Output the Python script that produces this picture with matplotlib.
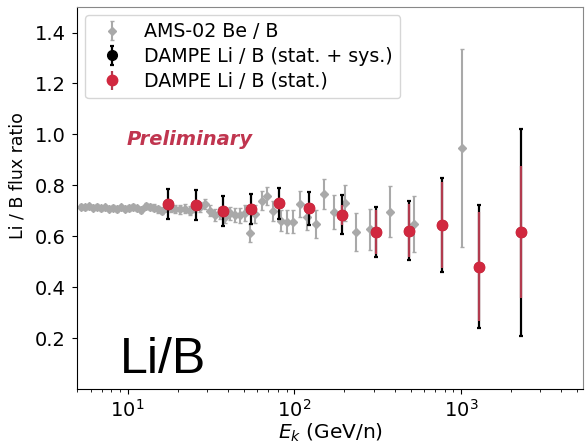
import numpy as np
import matplotlib
matplotlib.use("Agg")
import matplotlib.pyplot as plt

# AMS-02 Be / B
ams_e = [5.22, 5.52, 5.83, 6.16, 6.51, 6.88, 7.28, 7.69, 8.13, 8.59, 9.08, 9.59,
         10.14, 10.72, 11.33, 11.97, 12.83, 13.56, 14.33, 15.14, 16.0, 16.91,
         18.12, 19.15, 20.52, 21.99, 23.57, 25.26, 27.07, 29.0, 31.1, 33.3,
         35.7, 38.3, 41.0, 44.0, 47.1, 50.5, 54.0, 58.0, 63.8, 68.4, 74.3,
         83.0, 90.2, 98.0, 108.0, 119.0, 134.6, 150.4, 172.7, 201.0, 234.0,
         284.0, 375.0, 522.0, 1013.0]
ams_r = [0.716, 0.714, 0.717, 0.712, 0.715, 0.710, 0.713, 0.708, 0.712, 0.707,
         0.713, 0.708, 0.711, 0.715, 0.709, 0.704, 0.720, 0.716, 0.712, 0.705,
         0.700, 0.712, 0.712, 0.706, 0.705, 0.708, 0.700, 0.713, 0.716, 0.727,
         0.700, 0.683, 0.690, 0.676, 0.690, 0.684, 0.682, 0.690, 0.613, 0.687,
         0.739, 0.758, 0.700, 0.661, 0.656, 0.656, 0.726, 0.675, 0.648, 0.765,
         0.695, 0.731, 0.616, 0.627, 0.697, 0.648, 0.947]
ams_err = [0.010, 0.010, 0.010, 0.010, 0.010, 0.010, 0.010, 0.010, 0.010, 0.010,
           0.010, 0.010, 0.011, 0.011, 0.011, 0.012, 0.012, 0.012, 0.013, 0.013,
           0.014, 0.014, 0.015, 0.015, 0.016, 0.017, 0.018, 0.019, 0.020, 0.021,
           0.022, 0.023, 0.024, 0.025, 0.026, 0.028, 0.030, 0.032, 0.034, 0.036,
           0.038, 0.035, 0.040, 0.040, 0.045, 0.045, 0.050, 0.050, 0.055, 0.060,
           0.065, 0.070, 0.075, 0.080, 0.100, 0.110, 0.390]

# DAMPE Li / B
dampe_e = [17.5, 25.6, 37.3, 55.0, 80.7, 122.8, 194.5, 307.6, 488.6, 773.0, 1291.0, 2300.0]
dampe_r = [0.726, 0.723, 0.699, 0.706, 0.729, 0.709, 0.684, 0.616, 0.622, 0.644, 0.481, 0.616]
dampe_stat = [0.010, 0.010, 0.010, 0.012, 0.015, 0.020, 0.040, 0.085, 0.105, 0.170, 0.215, 0.260]
dampe_tot = [0.060, 0.060, 0.058, 0.060, 0.062, 0.066, 0.077, 0.097, 0.117, 0.183, 0.240, 0.407]

fig = plt.figure(figsize=(5.87, 4.44), dpi=100)
ax = fig.add_axes([0.132, 0.124, 0.861, 0.860])

ax.errorbar(ams_e, ams_r, yerr=ams_err, fmt='D', color='#a9a9a9', markersize=4.5,
            elinewidth=1.5, capsize=1.2, label='AMS-02 Be / B', zorder=2)
ax.errorbar(dampe_e, dampe_r, yerr=dampe_tot, fmt='o', color='black', markersize=7,
            elinewidth=1.6, capsize=1.2, capthick=1.6, label='DAMPE Li / B (stat. + sys.)', zorder=3)
ax.errorbar(dampe_e, dampe_r, yerr=dampe_stat, fmt='o', color='#d1283f', ecolor='#b23b4e',
            markersize=7.5, elinewidth=1.6, capsize=0, label='DAMPE Li / B (stat.)', zorder=4)

ax.set_xscale('log')
ax.set_xlim(5, 5400)
ax.set_ylim(0.0, 1.5)
ax.set_yticks([0.2, 0.4, 0.6, 0.8, 1.0, 1.2, 1.4])
ax.tick_params(labelsize=14)
ax.tick_params(axis='y', pad=5)
ax.set_xlabel('$E_k$ (GeV/n)', fontsize=14.5, labelpad=1)
ax.set_ylabel('Li / B flux ratio', fontsize=12.5)
ax.yaxis.set_label_coords(-0.10, 0.56)

for side in ['top', 'right']:
    ax.spines[side].set_color('#888888')

ax.text(0.098, 0.652, 'Preliminary', transform=ax.transAxes, fontsize=14,
        fontweight='bold', fontstyle='italic', color='#c0354f', va='center')
ax.text(0.084, 0.043, 'Li/B', transform=ax.transAxes, fontsize=36,
        family='Liberation Sans', va='baseline')

ax.legend(loc='upper left', fontsize=13.7, frameon=True, handletextpad=0.7,
          borderaxespad=0.4, labelspacing=0.3)

fig.savefig('out.png', dpi=100)
